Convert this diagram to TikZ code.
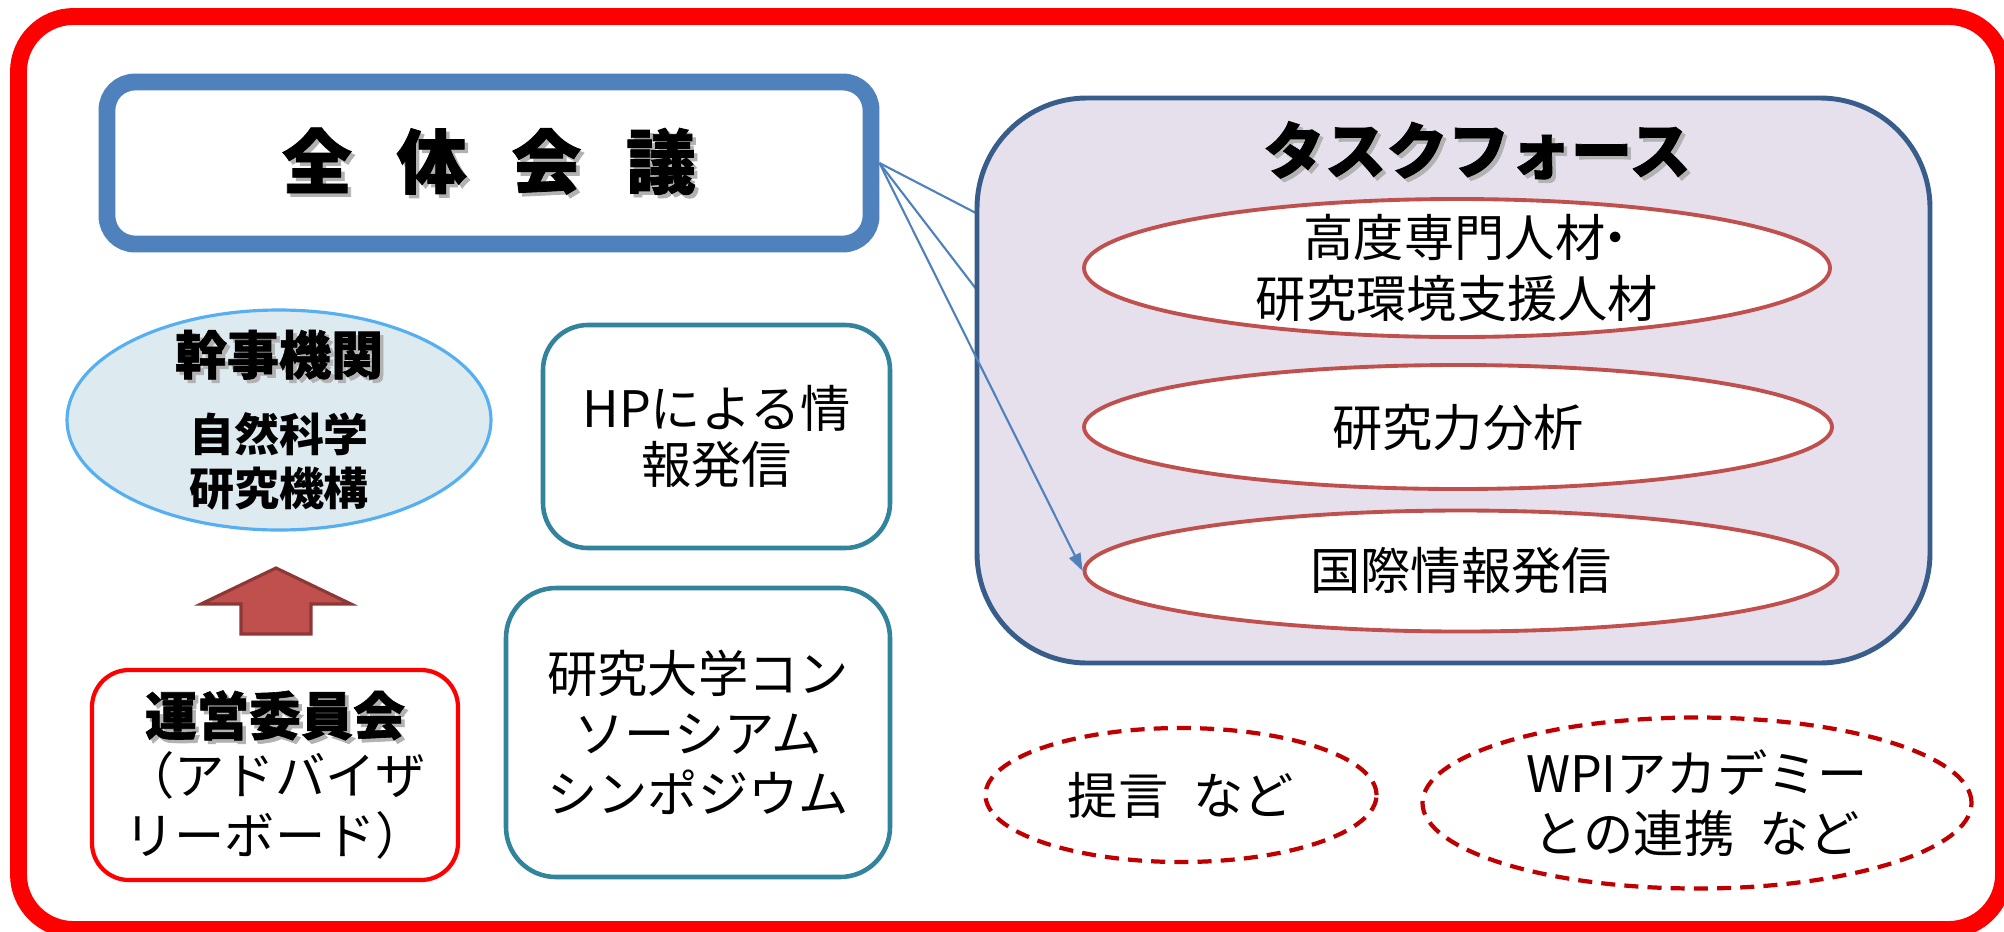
\documentclass[tikz,border=0pt]{standalone}
\usepackage{fontspec}
\setmainfont{Noto Sans CJK JP}
\usetikzlibrary{arrows.meta,shapes.geometric,backgrounds}

\definecolor{framered}{RGB}{255,0,0}
\definecolor{meetblue}{RGB}{79,129,189}
\definecolor{tfborder}{RGB}{56,93,138}
\definecolor{tffill}{RGB}{229,224,236}
\definecolor{ovalred}{RGB}{192,80,77}
\definecolor{boxteal}{RGB}{49,132,155}
\definecolor{skyline}{RGB}{85,175,240}
\definecolor{skyfill}{RGB}{221,235,240}
\definecolor{dashred}{RGB}{192,0,0}
\definecolor{arrowdark}{RGB}{140,56,54}

\newcommand{\shadowed}[1]{\rlap{\kern1pt\raisebox{-1pt}{\textcolor{black!30}{#1}}}#1}
\newcommand{\heavy}{\bfseries\addfontfeatures{FakeBold=1.2}}

\begin{document}
\begin{tikzpicture}[color=black,
txt/.style={font=\fontsize{14.3}{17}\selectfont, align=center},
tealbox/.style={draw=boxteal, line width=1.3pt, rounded corners=0.45cm},
taskoval/.style={ellipse, draw=ovalred, line width=1.1pt, fill=white, inner sep=0pt},
dashoval/.style={ellipse, draw=dashred, line width=1.2pt, dash pattern=on 4pt off 2.6pt, inner sep=0pt},
linkline/.style={meetblue, line width=0.6pt, -{Triangle[length=5pt,width=3.5pt]}}]

\path[use as bounding box] (0,0) rectangle (20.04,9.31);

\node (frame) at (10.11,4.58)[draw=framered, line width=4.8pt, minimum width=19.85cm, minimum height=9.13cm, rounded corners=0.55cm]{};

\node (zentai) at (4.89,7.68)[draw=meetblue, line width=4.8pt, minimum width=7.64cm, minimum height=1.62cm, rounded corners=0.28cm, font=\fontsize{19.9}{24}\selectfont\heavy]{\shadowed{全}\hspace{0.64em}\shadowed{体}\hspace{0.64em}\shadowed{会}\hspace{0.64em}\shadowed{議}};

\node (tf) at (14.535,5.505)[draw=tfborder, fill=tffill, line width=1.4pt, minimum width=9.53cm, minimum height=5.65cm, rounded corners=1.1cm]{};

\node (tftitle) at (14.77,7.79)[font=\fontsize{17.5}{21}\selectfont\heavy]{\shadowed{タスクフォース}};

\node (e1) at (14.57,6.63)[taskoval, minimum width=7.46cm, minimum height=1.38cm, label={[align=center, font=\fontsize{14.3}{17.6}\selectfont]center:\hspace{.3em}高度専門人材\kern-.3em・\kern-.3em\\研究環境支援人材}]{};

\node (e2) at (14.58,5.04)[taskoval, minimum width=7.48cm, minimum height=1.24cm, txt]{研究力分析};

\node (e3) at (14.61,3.60)[taskoval, minimum width=7.53cm, minimum height=1.21cm, txt]{国際情報発信};

\node (kanji) at (2.79,5.11)[ellipse, draw=skyline, fill=skyfill, line width=0.9pt, minimum width=4.24cm, minimum height=2.2cm, inner sep=0pt, label={[align=center, font=\bfseries\fontsize{12.8}{15.4}\selectfont]center:{\fontsize{14.8}{17}\selectfont\heavy\shadowed{幹事機関}}\\[6.5pt]自然科学\\研究機構}]{};

\draw[draw=arrowdark, fill=ovalred, line width=0.9pt] (2.41,2.97) -- (2.41,3.27) -- (2.01,3.27) -- (2.76,3.63) -- (3.51,3.27) -- (3.11,3.27) -- (3.11,2.97) -- cycle;

\node (unei) at (2.75,1.56)[draw=framered, line width=1.2pt, minimum width=3.66cm, minimum height=2.10cm, rounded corners=0.37cm, txt]{{\fontsize{14.8}{17}\selectfont\heavy\shadowed{運営委員会}}\\（アドバイザ\\リーボード）};

\node (hp) at (7.165,4.945)[tealbox, minimum width=3.47cm, minimum height=2.23cm, txt, font=\fontsize{14.3}{16}\selectfont]{HPによる情\\報発信};

\node (sympo) at (6.98,1.985)[tealbox, minimum width=3.84cm, minimum height=2.89cm, rounded corners=0.5cm, txt]{研究大学コン\\ソーシアム\\シンポジウム};

\node (teian) at (11.81,1.36)[dashoval, minimum width=3.91cm, minimum height=1.34cm, txt]{提言\hspace{0.5em}など};

\node (wpi) at (16.97,1.28)[dashoval, minimum width=5.49cm, minimum height=1.71cm, txt]{WPIアカデミー\\との連携\hspace{0.5em}など};

\draw[linkline] (zentai.east) -- (e3.west);

\begin{pgfonlayer}{background}
\fill[white] (0,0) rectangle (20.04,9.31);
\foreach \n in {e1,e2}
{
\draw[linkline] (zentai.east) -- (\n.west);
}
\end{pgfonlayer}

\end{tikzpicture}
\end{document}
